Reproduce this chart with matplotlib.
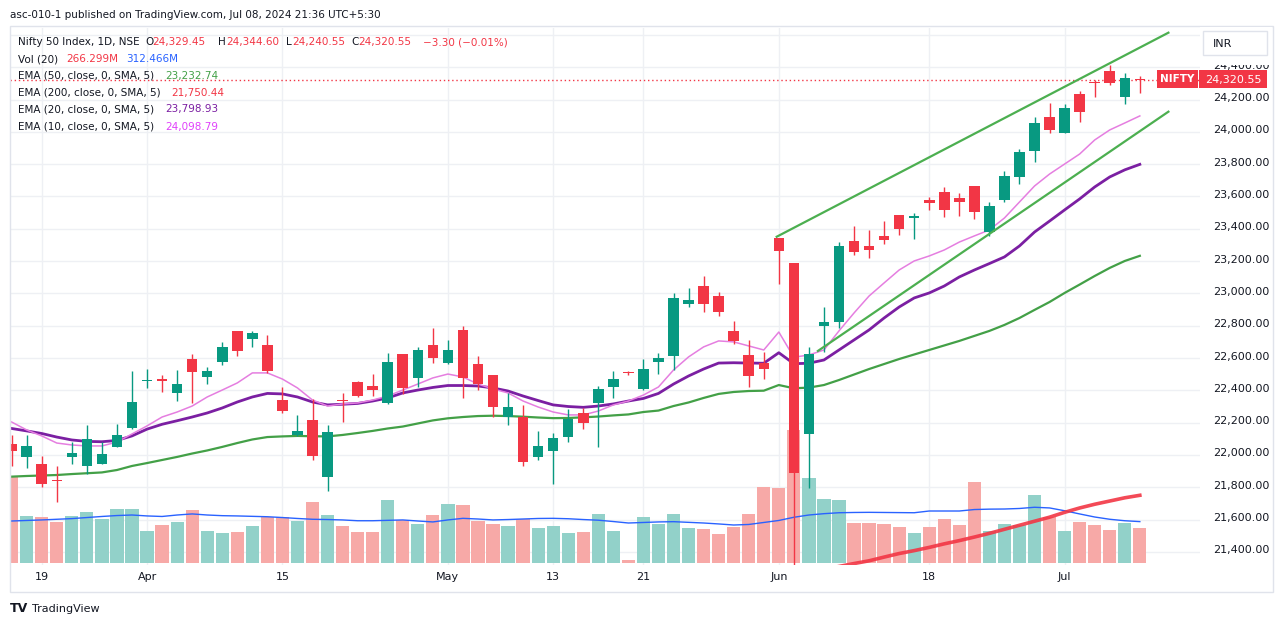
import numpy as np
import matplotlib.pyplot as plt
from matplotlib.patches import Rectangle
from matplotlib.transforms import blended_transform_factory, ScaledTranslation

W, H = 1281, 627

# Nifty 50 daily sessions, Mar 15 .. Jul 08 2024 (incl. May 18 special session)
opens = [22066, 21990, 21946, 21845, 21990, 21930, 21945, 22052, 22165, 22455,
         22470, 22386, 22592, 22485, 22573, 22766, 22718, 22681, 22340, 22124,
         22217, 21862, 22342, 22454, 22427, 22320, 22625, 22475, 22681, 22568,
         22774, 22561, 22495, 22233, 22237, 21990, 22027, 22113, 22258, 22320,
         22419, 22515, 22406, 22577, 22613, 22933, 23046, 22984, 22768, 22619,
         22572, 23341, 23186, 22128, 22800, 22825, 23326, 23295, 23354, 23486,
         23470, 23578, 23630, 23593, 23665, 23382, 23578, 23722, 23884, 24094,
         23995, 24234, 24306, 24377, 24218, 24329.45]
highs = [22124, 22124, 21995, 21932, 22082, 22185, 22080, 22192, 22520, 22533,
         22495, 22525, 22625, 22545, 22700, 22770, 22770, 22743, 22420, 22250,
         22347, 22185, 22382, 22456, 22500, 22632, 22628, 22669, 22784, 22712,
         22798, 22612, 22498, 22384, 22310, 22149, 22134, 22283, 22290, 22430,
         22520, 22520, 22593, 22633, 23003, 23031, 23108, 23006, 22830, 22712,
         22640, 23341, 23186, 22670, 22914, 23320, 23420, 23393, 23450, 23486,
         23496, 23594, 23661, 23624, 23667, 23566, 23760, 23897, 24094, 24181,
         24170, 24251, 24321, 24412, 24366, 24344.60]
lows = [21930, 21920, 21800, 21711, 21944, 21880, 21944, 22050, 22163, 22415,
        22392, 22336, 22320, 22437, 22556, 22615, 22670, 22505, 22262, 22115,
        21969, 21778, 22206, 22360, 22366, 22318, 22380, 22421, 22570, 22565,
        22351, 22400, 22233, 22186, 21932, 21969, 21820, 22082, 22163, 22051,
        22355, 22496, 22404, 22500, 22527, 22916, 22885, 22860, 22690, 22418,
        22469, 23060, 21281, 21798, 22640, 22789, 23235, 23218, 23305, 23363,
        23337, 23517, 23474, 23480, 23463, 23356, 23565, 23676, 23812, 23995,
        23992, 24063, 24214, 24290, 24175, 24240.55]
closes = [22022, 22056, 21819, 21840, 22010, 22098, 22005, 22124, 22330, 22462,
          22458, 22437, 22516, 22520, 22670, 22646, 22753, 22520, 22274, 22149,
          21996, 22144, 22336, 22367, 22402, 22578, 22416, 22650, 22602, 22650,
          22475, 22440, 22299, 22299, 21959, 22056, 22107, 22221, 22200, 22406,
          22470, 22505, 22531, 22599, 22970, 22959, 22933, 22887, 22708, 22491,
          22530, 23265, 21887, 22623, 22821, 23293, 23258, 23270, 23330, 23400,
          23478, 23562, 23517, 23568, 23506, 23541, 23727, 23877, 24057, 24012,
          24146, 24124, 24300, 24304, 24332, 24320.55]

# volume in millions and its 20-day average
volumes = [657, 355, 345, 312, 355, 385, 330, 407, 407, 245,
           287, 312, 400, 245, 230, 235, 280, 350, 345, 320,
           462, 362, 280, 235, 235, 475, 325, 295, 362, 445,
           437, 320, 295, 280, 330, 262, 280, 230, 235, 370,
           245, 25, 347, 292, 370, 267, 257, 220, 275, 370,
           575, 562, 1000, 642, 482, 475, 305, 302, 295, 270,
           225, 270, 330, 285, 610, 242, 295, 285, 512, 350,
           242, 307, 285, 250, 305, 266.3]
vol_ma = [317, 321, 325, 330, 335, 343, 351, 358, 362, 355,
          351, 362, 370, 362, 357, 355, 352, 349, 343, 336,
          330, 328, 325, 319, 319, 322, 325, 317, 310, 325,
          337, 332, 325, 328, 332, 336, 337, 334, 328, 323,
          313, 302, 306, 310, 312, 307, 302, 295, 287, 291,
          306, 321, 345, 362, 372, 379, 381, 382, 381, 380,
          379, 392, 392, 392, 403, 406, 407, 411, 420, 415,
          394, 370, 347, 330, 319, 312.5]

ema10 = [22204, 22155, 22118, 22074, 22062, 22056, 22056, 22080, 22130, 22180,
         22235, 22266, 22303, 22359, 22402, 22446, 22508, 22508, 22470, 22415,
         22340, 22303, 22316, 22322, 22340, 22365, 22402, 22439, 22477, 22501,
         22483, 22439, 22409, 22384, 22334, 22297, 22266, 22248, 22248, 22272,
         22310, 22334, 22371, 22421, 22526, 22607, 22669, 22706, 22700, 22675,
         22650, 22761, 22605, 22619, 22650, 22768, 22879, 22984, 23065, 23145,
         23201, 23232, 23269, 23318, 23356, 23393, 23467, 23566, 23665, 23739,
         23801, 23863, 23950, 24012, 24055, 24098.79]
ema20 = [22164, 22149, 22133, 22111, 22093, 22084, 22082, 22090, 22118, 22160,
         22190, 22212, 22235, 22260, 22291, 22328, 22359, 22381, 22378, 22359,
         22328, 22310, 22314, 22319, 22334, 22353, 22384, 22402, 22418, 22430,
         22430, 22427, 22415, 22396, 22365, 22337, 22310, 22300, 22295, 22303,
         22316, 22334, 22350, 22381, 22439, 22489, 22532, 22569, 22571, 22569,
         22568, 22633, 22565, 22568, 22588, 22650, 22712, 22774, 22848, 22916,
         22972, 23003, 23046, 23102, 23145, 23185, 23226, 23294, 23380, 23448,
         23517, 23585, 23659, 23721, 23765, 23798.93]
ema50 = [21866, 21870, 21873, 21876, 21882, 21887, 21892, 21907, 21932, 21950,
         21969, 21988, 22009, 22028, 22050, 22074, 22096, 22111, 22115, 22118,
         22116, 22115, 22124, 22136, 22149, 22164, 22176, 22195, 22214, 22227,
         22235, 22241, 22243, 22241, 22237, 22232, 22228, 22229, 22233, 22238,
         22245, 22251, 22266, 22275, 22303, 22325, 22353, 22378, 22390, 22396,
         22398, 22433, 22413, 22417, 22433, 22464, 22498, 22532, 22563, 22594,
         22622, 22650, 22678, 22706, 22737, 22768, 22805, 22848, 22898, 22947,
         23003, 23055, 23108, 23158, 23201, 23232.74]
# EMA 200 only enters the visible price range in June
ema200 = [np.nan] * 55 + [21310, 21328, 21345, 21368, 21390, 21408, 21428, 21450,
                          21470, 21492, 21515, 21540, 21565, 21590, 21615, 21645,
                          21672, 21695, 21715, 21735, 21750.44]

# hand drawn channel lines (bar index, price)
upper_line_x = [50.86, 76.9]
upper_line_y = [23351, 24614]
lower_line_x = [53.6, 76.9]
lower_line_y = [22644, 24125]

tick_idx = [2, 9, 18, 29, 36, 42, 51, 61, 70]
tick_labels = ['19', 'Apr', '15', 'May', '13', '21', 'Jun', '18', 'Jul']
price_ticks = list(range(21400, 24401, 200))

UP, DOWN = '#089981', '#f23645'
VOL_UP, VOL_DOWN = '#92d1c9', '#f7a9a7'
TXT = '#131722'
GRID = '#eef0f4'
BORDER = '#e0e3eb'


def fx(px):
    return px / W


def fy(py):
    return 1 - py / H


def main():
    plt.rcParams['font.family'] = 'DejaVu Sans'
    fig = plt.figure(figsize=(W / 100, H / 100), dpi=100)
    pos = [fx(10), fy(565), (1200 - 10) / W, (565 - 28) / H]

    vax = fig.add_axes(pos)
    ax = fig.add_axes(pos, sharex=vax)
    ax.patch.set_visible(False)
    vax.set_zorder(0)
    ax.set_zorder(1)

    n = len(closes)
    idx = np.arange(n)
    o = np.array(opens)
    c = np.array(closes)
    up = c >= o

    # grid (drawn in the volume axes so it stays behind the bars)
    hline = blended_transform_factory(vax.transAxes, ax.transData)
    for v in price_ticks + [24600]:
        vax.plot([0, 1], [v, v], color=GRID, lw=1, transform=hline, zorder=0)
    for k in tick_idx:
        vax.axvline(k, color=GRID, lw=1, zorder=0)

    # volume
    vax.bar(idx, volumes, width=0.88, color=np.where(up, VOL_UP, VOL_DOWN), zorder=1)
    vax.plot(idx, vol_ma, color='#2962ff', lw=1, zorder=2)
    vax.set_ylim(-13, 4015)
    vax.axis('off')

    # candles
    colors = np.where(up, UP, DOWN)
    ax.vlines(idx, lows, highs, colors=colors, lw=1, zorder=3)
    body = np.maximum(np.abs(c - o), 7)
    ax.bar(idx, body, bottom=np.minimum(o, c), width=0.7, color=colors, zorder=4)

    # moving averages and drawings
    ax.plot(idx, ema50, color='#43a047', lw=1.6, zorder=2)
    ax.plot(idx, ema20, color='#7b1fa2', lw=2, zorder=2)
    ax.plot(idx, ema10, color='#e57ee0', lw=1.1, zorder=2)
    ax.plot(idx, ema200, color='#f23645', lw=2.6, alpha=0.9, zorder=2)
    ax.plot(upper_line_x, upper_line_y, color='#4caf50', lw=1.6, zorder=5)
    ax.plot(lower_line_x, lower_line_y, color='#4caf50', lw=1.6, zorder=5)
    ax.axhline(closes[-1], color=DOWN, lw=1, ls=(0, (1, 2)), zorder=1)

    ax.set_xlim(-0.11, 79.0)
    ax.set_ylim(21319, 24643)
    ax.yaxis.tick_right()
    ax.set_yticks(price_ticks, [f'{v:,.2f}' for v in price_ticks])
    ax.set_xticks(tick_idx, tick_labels)
    ax.tick_params(axis='y', length=0, pad=9.4, labelsize=8, labelcolor=TXT)
    ax.tick_params(axis='x', length=0, pad=5, labelsize=8, labelcolor=TXT)
    # price labels sit a little above their grid line
    lift = ScaledTranslation(0, 2.5 / 100, fig.dpi_scale_trans)
    for lab in ax.get_yticklabels():
        lab.set_transform(lab.get_transform() + lift)
    for s in ax.spines.values():
        s.set_visible(False)

    # frame, currency box (it hides the top of the 24,400 label) and last price label
    fig.add_artist(Rectangle((fx(10), fy(592)), 1263 / W, (592 - 26) / H, fill=False,
                             ec=BORDER, lw=1, transform=fig.transFigure, zorder=5))
    fig.add_artist(Rectangle((fx(1200), fy(64.5)), 72 / W, 37.5 / H, fc='white', ec='none',
                             transform=fig.transFigure, zorder=5))
    fig.add_artist(Rectangle((fx(1203.3), fy(55.3)), 63.4 / W, 24 / H, fc='white', ec=BORDER,
                             lw=1, transform=fig.transFigure, zorder=6))
    fig.text(fx(1212.7), fy(44), 'INR', fontsize=8, color=TXT, va='center', zorder=7)
    fig.add_artist(Rectangle((fx(1156.7), fy(88)), 41.6 / W, 17.7 / H, fc=DOWN, ec='none',
                             transform=fig.transFigure, zorder=6))
    fig.add_artist(Rectangle((fx(1199.3), fy(88)), 67.4 / W, 17.7 / H, fc=DOWN, ec='none',
                             transform=fig.transFigure, zorder=6))
    fig.text(fx(1177.5), fy(79.5), 'NIFTY', fontsize=7.5, color='white', weight='bold',
             ha='center', va='center', zorder=7)
    fig.text(fx(1233), fy(79.5), f'{closes[-1]:,.2f}', fontsize=8, color='white',
             ha='center', va='center', zorder=7)

    # header and legend
    fig.text(fx(10), fy(15), 'asc-010-1 published on TradingView.com, Jul 08, 2024 21:36 UTC+5:30',
             fontsize=7.5, color=TXT, va='center')
    legend_rows = [
        (42.3, [('Nifty 50 Index, 1D, NSE', 18.3, TXT), ('O', 145, TXT), ('24,329.45', 152, DOWN),
                ('H', 218.3, TXT), ('24,344.60', 226.7, DOWN), ('L', 286, TXT),
                ('24,240.55', 292, DOWN), ('C', 351.7, TXT), ('24,320.55', 358.3, DOWN),
                ('\u22123.30 (\u22120.01%)', 423.3, DOWN)]),
        (59.3, [('Vol (20)', 18.3, TXT), ('266.299M', 66.7, DOWN), ('312.466M', 126, '#2962ff')]),
        (76, [('EMA (50, close, 0, SMA, 5)', 18.3, TXT), ('23,232.74', 165, '#43a047')]),
        (92.7, [('EMA (200, close, 0, SMA, 5)', 18.3, TXT), ('21,750.44', 171.7, DOWN)]),
        (109.3, [('EMA (20, close, 0, SMA, 5)', 18.3, TXT), ('23,798.93', 165.7, '#7b1fa2')]),
        (126.7, [('EMA (10, close, 0, SMA, 5)', 18.3, TXT), ('24,098.79', 165.7, '#e040fb')]),
    ]
    for y, parts in legend_rows:
        for text, x, col in parts:
            fig.text(fx(x), fy(y), text, fontsize=7.5, color=col, va='center')

    fig.text(fx(10), fy(609), 'TV', fontsize=9, weight='heavy', color=TXT, va='center')
    fig.text(fx(31.7), fy(609), 'TradingView', fontsize=8, color=TXT, va='center')

    fig.savefig('out.png', dpi=100, facecolor='white')


if __name__ == "__main__":
    main()
